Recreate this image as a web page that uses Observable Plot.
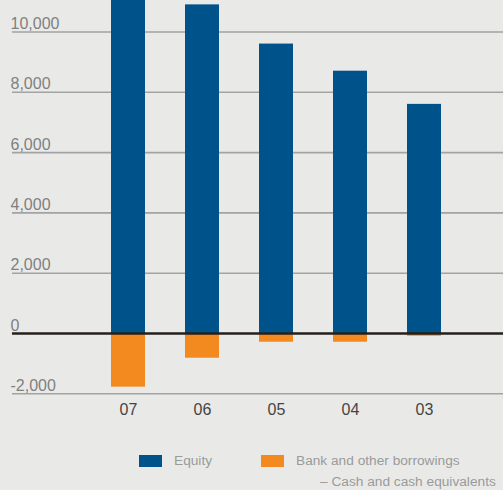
<!DOCTYPE html>
<html><head><meta charset="utf-8">
<script src="https://cdn.jsdelivr.net/npm/d3@7"></script>
<script src="https://cdn.jsdelivr.net/npm/@observablehq/plot@0.6"></script>
<style>
body{margin:0;background:#e9eae8;}
#wrap{position:relative;width:503px;height:490px;background:#e9eae8;font-family:"Liberation Sans",Arial,sans-serif;}
.sw{position:absolute;width:23px;height:12px;}
.lt{position:absolute;font-size:13.7px;color:#9a9a9a;white-space:nowrap;}
</style></head>
<body><div id="wrap"></div>
<script>
const years = ["07","06","05","04","03"];
const equity = [11200, 10900, 9600, 8700, 7600];
const netBorrowings = [-1780, -820, -290, -290, -90];
const yTicks = [-2000, 0, 2000, 4000, 6000, 8000, 10000];
const seriesNames = ["Equity", "Bank and other borrowings", "– Cash and cash equivalents"];
const colors = {equity:"#00538a", borrow:"#f38a20"};

const data = [
  ...years.map((y,i)=>({year:y, value:equity[i], s:"equity"})),
  ...years.map((y,i)=>({year:y, value:netBorrowings[i], s:"borrow"}))
];
const fmt = d => d3.format(",")(d).replace("−", "-");

const chart = Plot.plot({
  width: 503, height: 440,
  marginTop: 0, marginLeft: 0, marginRight: 0, marginBottom: 46.7,
  style: {background: "#e9eae8", fontFamily: "'Liberation Sans', Arial, sans-serif"},
  x: {domain: years, range: [89.9, 461.1], paddingInner: 0.542, paddingOuter: 0.271, axis: null},
  y: {domain: [-2000, 11045], axis: null},
  marks: [
    Plot.ruleY(yTicks.filter(d=>d!==0), {stroke:"#a2a3a2", strokeWidth:1.6, insetLeft:12}),
    Plot.barY(data, {x:"year", y:"value", fill:d=>colors[d.s], clip:true}),
    Plot.ruleY([0], {stroke:"#231f1c", strokeWidth:2.6, insetLeft:12}),
    Plot.text(yTicks, {y:d=>d, text:fmt, frameAnchor:"left", dx:10, dy:-3, lineAnchor:"bottom", textAnchor:"start", fontSize:16, fill:"#808080"}),
    Plot.axisX({domain: years, tickSize:0, tickPadding:10, fontSize:16, color:"#444", label:null})
  ]
});
const wrap = document.getElementById("wrap");
chart.style.position="absolute"; chart.style.left="0"; chart.style.top="0";
wrap.appendChild(chart);
const leg = [
  {cls:"sw", left:139, top:455, bg:colors.equity},
  {cls:"sw", left:261, top:455, bg:colors.borrow},
  {cls:"lt", left:174, top:453, text:seriesNames[0]},
  {cls:"lt", left:296, top:453, text:seriesNames[1]},
  {cls:"lt", left:320, top:474, text:seriesNames[2]}
];
for (const l of leg) {
  const d = document.createElement("div");
  d.className = l.cls; d.style.left = l.left+"px"; d.style.top = l.top+"px";
  if (l.bg) d.style.background = l.bg;
  if (l.text) d.textContent = l.text;
  wrap.appendChild(d);
}
</script></body></html>
